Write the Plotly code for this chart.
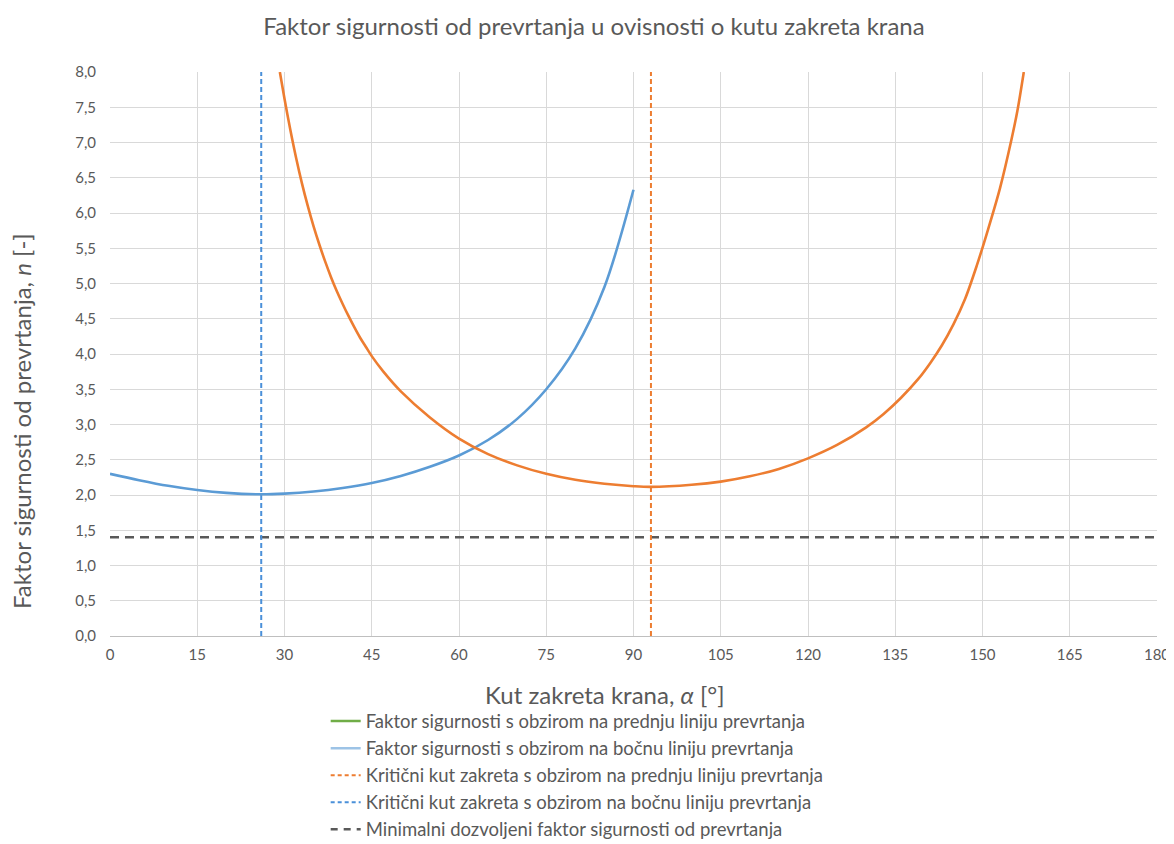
import plotly.graph_objects as go

# ---- data ----
side_angle = [0, 5, 10, 15, 20, 26, 30, 35, 40, 45, 50, 55, 60, 65, 70, 75, 80, 85, 90]
side_n = [2.30, 2.21, 2.13, 2.07, 2.03, 2.01, 2.02, 2.05, 2.10, 2.17, 2.27, 2.40, 2.56, 2.78,
          3.08, 3.50, 4.08, 4.95, 6.33]

front_angle = [29.2, 30, 31, 32, 33, 34, 35, 36, 37, 38, 39, 40, 41, 42, 43, 44, 45, 47, 50,
               55, 60, 65, 70, 75, 80, 85, 90, 93,
               100, 105, 110, 115, 120, 125, 130, 133, 136, 139, 141, 143, 145, 147, 149,
               151, 153, 155, 156, 157.1]
front_n = [8.00, 7.62, 7.18, 6.78, 6.42, 6.10, 5.81, 5.55, 5.31, 5.09, 4.89, 4.71, 4.54, 4.38,
           4.23, 4.10, 3.97, 3.75, 3.47, 3.10, 2.80, 2.58, 2.42, 2.30, 2.215, 2.16, 2.125, 2.115,
           2.145, 2.19, 2.265, 2.37, 2.52, 2.71, 2.96, 3.15, 3.38, 3.65, 3.87, 4.12, 4.42, 4.78,
           5.25, 5.78, 6.35, 7.05, 7.45, 8.0]

crit_front = 93
crit_side = 26
n_min = 1.4
x_ticks = [0, 15, 30, 45, 60, 75, 90, 105, 120, 135, 150, 165, 180]
y_ticks = [0, 0.5, 1, 1.5, 2, 2.5, 3, 3.5, 4, 4.5, 5, 5.5, 6, 6.5, 7, 7.5, 8]

legend_names = [
    "Faktor sigurnosti s obzirom na prednju liniju prevrtanja",
    "Faktor sigurnosti s obzirom na bočnu liniju prevrtanja",
    "Kritični kut zakreta s obzirom na prednju liniju prevrtanja",
    "Kritični kut zakreta s obzirom na bočnu liniju prevrtanja",
    "Minimalni dozvoljeni faktor sigurnosti od prevrtanja",
]

ORANGE = "#ED7D31"
BLUE = "#5B9BD5"
GREY = "#595959"
FONT = "Lato"

fig = go.Figure()

fig.add_trace(go.Scatter(x=[x_ticks[0], x_ticks[-1]], y=[n_min, n_min], mode="lines",
                         line=dict(color=GREY, width=2.5, dash="9px,6px"), showlegend=False))
fig.add_trace(go.Scatter(x=[crit_side, crit_side], y=[y_ticks[0], y_ticks[-1]], mode="lines",
                         line=dict(color="#4A90D9", width=2, dash="5px,3px"), showlegend=False))
fig.add_trace(go.Scatter(x=[crit_front, crit_front], y=[y_ticks[0], y_ticks[-1]], mode="lines",
                         line=dict(color=ORANGE, width=2, dash="5px,3px"), showlegend=False))
fig.add_trace(go.Scatter(x=side_angle, y=side_n, mode="lines", line_shape="spline",
                         line=dict(color=BLUE, width=2.6, smoothing=0.9), showlegend=False))
fig.add_trace(go.Scatter(x=front_angle, y=front_n, mode="lines", line_shape="spline",
                         line=dict(color=ORANGE, width=2.6, smoothing=0.9), showlegend=False))

# legend entries (styled as in the reference legend)
leg_styles = [
    dict(color="#70AD47", width=2.5),
    dict(color="#9DC3E6", width=2.5),
    dict(color=ORANGE, width=2, dash="4px,3px"),
    dict(color="#4A90D9", width=2, dash="4px,3px"),
    dict(color=GREY, width=2.5, dash="7px,6px"),
]
for i, (name, st) in enumerate(zip(legend_names, leg_styles)):
    fig.add_trace(go.Scatter(x=[None], y=[None], mode="lines", name=name, line=st,
                             legendgroup=f"g{i}"))

fig.update_layout(
    width=1174, height=836,
    margin=dict(l=102, r=25, t=64, b=208, autoexpand=False),
    paper_bgcolor="white", plot_bgcolor="white",
    separators=", ",
    font=dict(family=FONT, color=GREY),
    title=dict(text="Faktor sigurnosti od prevrtanja u ovisnosti o kutu zakreta krana",
               x=586 / 1174, xanchor="center", y=1 - 19 / 836, yanchor="middle",
               font=dict(size=24, color=GREY, family=FONT)),
    xaxis=dict(range=[x_ticks[0], x_ticks[-1]], tickvals=x_ticks, showgrid=True,
               gridcolor="#D9D9D9", gridwidth=1, zeroline=False, showline=True,
               linecolor="#BFBFBF", linewidth=1, ticks="outside", ticklen=5,
               tickcolor="rgba(0,0,0,0)", tickfont=dict(size=15, color=GREY),
               automargin=False),
    yaxis=dict(range=[y_ticks[0], y_ticks[-1]], tickvals=y_ticks, tickformat=".1f",
               showgrid=True, gridcolor="#D9D9D9", gridwidth=1, zeroline=False,
               showline=False, ticks="outside", ticklen=10, tickcolor="rgba(0,0,0,0)",
               tickfont=dict(size=15, color=GREY), automargin=False),
    legend=dict(x=0.206, xanchor="left", y=-0.118, yanchor="top",
                font=dict(size=18.5, color=GREY, family=FONT), tracegroupgap=0,
                bgcolor="rgba(0,0,0,0)"),
    annotations=[
        dict(text="Faktor sigurnosti od prevrtanja, <i>n</i> [-]", textangle=-90,
             xref="paper", yref="paper", x=(21 - 110) / 1047, y=(636 - 421) / 564,
             xanchor="center", yanchor="middle", showarrow=False,
             font=dict(size=24, color=GREY, family=FONT)),
        dict(text="Kut zakreta krana, <i>α</i> [°]", xref="paper", yref="paper",
             x=(605 - 110) / 1047, y=(636 - 694) / 564, xanchor="center", yanchor="middle",
             showarrow=False, font=dict(size=24, color=GREY, family=FONT)),
    ],
)

fig.write_html("out.html")
